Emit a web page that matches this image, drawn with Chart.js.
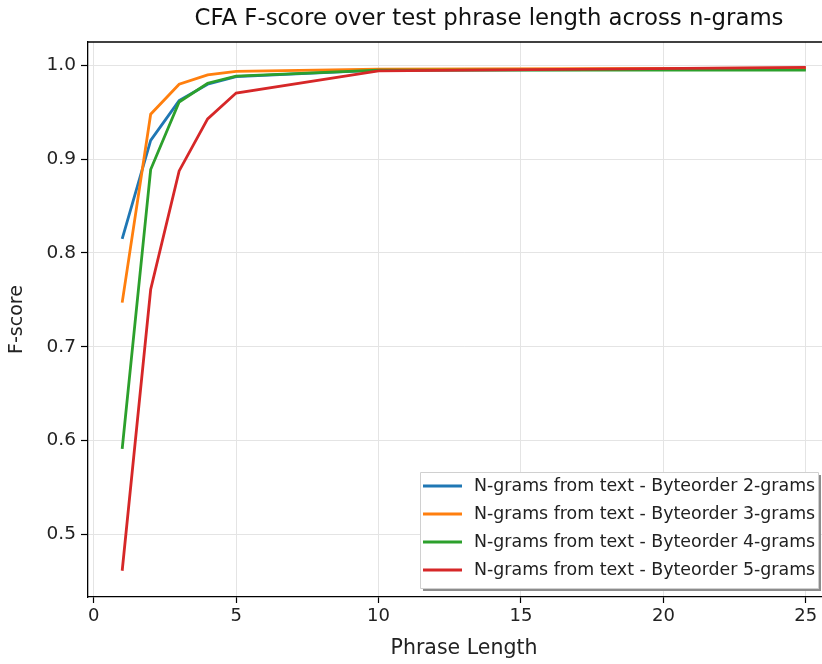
<!DOCTYPE html>
<html>
<head>
<meta charset="utf-8">
<script src="https://cdn.jsdelivr.net/npm/chart.js@4/dist/chart.umd.min.js"></script>
<style>
  html, body { margin: 0; padding: 0; background: #fff; overflow: hidden; }
  #wrap { width: 840px; height: 664px; }
</style>
</head>
<body>
<div id="wrap"><canvas id="fscoreChart"></canvas></div>
<script>
var phraseLengths = [1, 2, 3, 4, 5, 10, 25];
var bigrams  = [0.815, 0.920, 0.9625, 0.980, 0.988, 0.995, 0.996];
var trigrams = [0.747, 0.948, 0.980, 0.990, 0.9936, 0.996, 0.997];
var fourgrams = [0.591, 0.889, 0.961, 0.981, 0.9887, 0.995, 0.995];
var fivegrams = [0.461, 0.761, 0.8875, 0.943, 0.9706, 0.9943, 0.998];
var seriesNames = [
    'N-grams from text - Byteorder 2-grams',
    'N-grams from text - Byteorder 3-grams',
    'N-grams from text - Byteorder 4-grams',
    'N-grams from text - Byteorder 5-grams'
];
var colors = ['#1f77b4', '#ff7f0e', '#2ca02c', '#d62728'];
var xTicks = [0, 5, 10, 15, 20, 25];
var yTicks = [0.5, 0.6, 0.7, 0.8, 0.9, 1.0];

var FONT = "'DejaVu Sans', sans-serif";

function toPoints(vals) {
    return vals.map(function (v, i) { return { x: phraseLengths[i], y: v }; });
}

var allSeries = [bigrams, trigrams, fourgrams, fivegrams];
var datasets = allSeries.map(function (vals, i) {
    return {
        label: seriesNames[i],
        data: toPoints(vals),
        borderColor: colors[i],
        backgroundColor: colors[i],
        borderWidth: 2.8,
        pointRadius: 0,
        fill: false,
        tension: 0,
        order: 3 - i
    };
});

// title, top frame line and the boxed legend with shadow
var extras = {
    id: 'extras',
    afterDraw: function (chart) {
        var c = chart.ctx, a = chart.chartArea;
        c.save();
        c.fillStyle = '#111';
        c.font = '22.8px ' + FONT;
        c.textAlign = 'center';
        c.textBaseline = 'middle';
        c.fillText('CFA F-score over test phrase length across n-grams', 489, 19);

        c.strokeStyle = '#000';
        c.lineWidth = 1.3;
        c.beginPath();
        c.moveTo(a.left, a.top);
        c.lineTo(a.right, a.top);
        c.stroke();

        // legend
        var lx = 420, ly = 472, lw = 398, lh = 116;
        c.fillStyle = '#8c8c8c';
        c.fillRect(lx + 3, ly + 3, lw, lh);
        c.fillStyle = '#fff';
        c.strokeStyle = '#d0d0d0';
        c.lineWidth = 1;
        c.beginPath();
        c.rect(lx + 0.5, ly + 0.5, lw, lh);
        c.fill();
        c.stroke();
        c.font = '17.4px ' + FONT;
        c.textAlign = 'left';
        for (var i = 0; i < seriesNames.length; i++) {
            var yy = ly + 14 + i * 28;
            c.strokeStyle = colors[i];
            c.lineWidth = 2.8;
            c.beginPath();
            c.moveTo(423, yy);
            c.lineTo(462, yy);
            c.stroke();
            c.fillStyle = '#222';
            c.fillText(seriesNames[i], 474, yy);
        }
        c.restore();
    }
};

var ctx = document.getElementById('fscoreChart').getContext('2d');

var fscoreChart = new Chart(ctx, {
    type: 'line',
    data: { datasets: datasets },
    options: {
        responsive: true,
        maintainAspectRatio: false,
        devicePixelRatio: 1,
        animation: false,
        layout: { padding: { top: 42, left: 0, right: 0, bottom: 0 } },
        plugins: {
            legend: { display: false },
            tooltip: { enabled: false }
        },
        scales: {
            x: {
                type: 'linear',
                min: -0.2,
                max: 26.2,
                afterBuildTicks: function (s) {
                    s.ticks = xTicks.map(function (v) { return { value: v }; });
                },
                afterFit: function (s) { s.height = 67; },
                border: { display: true, color: '#000', width: 1.3 },
                grid: {
                    color: '#e4e4e4',
                    borderDash: [2, 2],
                    tickColor: '#000',
                    tickLength: 6,
                    tickBorderDash: [],
                    tickWidth: 1.2
                },
                ticks: {
                    color: '#222',
                    font: { family: FONT, size: 18 },
                    padding: 3,
                    maxRotation: 0,
                    callback: function (v) { return String(v); }
                },
                title: {
                    display: true,
                    text: 'Phrase Length',
                    color: '#222',
                    font: { family: FONT, size: 20.5 },
                    padding: { top: 0, bottom: 3 }
                }
            },
            y: {
                min: 0.433,
                max: 1.025,
                afterBuildTicks: function (s) {
                    s.ticks = yTicks.map(function (v) { return { value: v }; });
                },
                afterFit: function (s) { s.width = 88; },
                border: { display: true, color: '#000', width: 1.3 },
                grid: {
                    color: '#e4e4e4',
                    borderDash: [2, 2],
                    tickColor: '#000',
                    tickLength: 7,
                    tickBorderDash: [],
                    tickWidth: 1.2
                },
                ticks: {
                    color: '#222',
                    font: { family: FONT, size: 18.5 },
                    padding: 5,
                    callback: function (v) { return v.toFixed(1); }
                },
                title: {
                    display: true,
                    text: 'F-score',
                    color: '#222',
                    font: { family: FONT, size: 19 },
                    padding: { top: 6, bottom: 0 }
                }
            }
        }
    },
    plugins: [extras]
});
</script>
</body>
</html>
